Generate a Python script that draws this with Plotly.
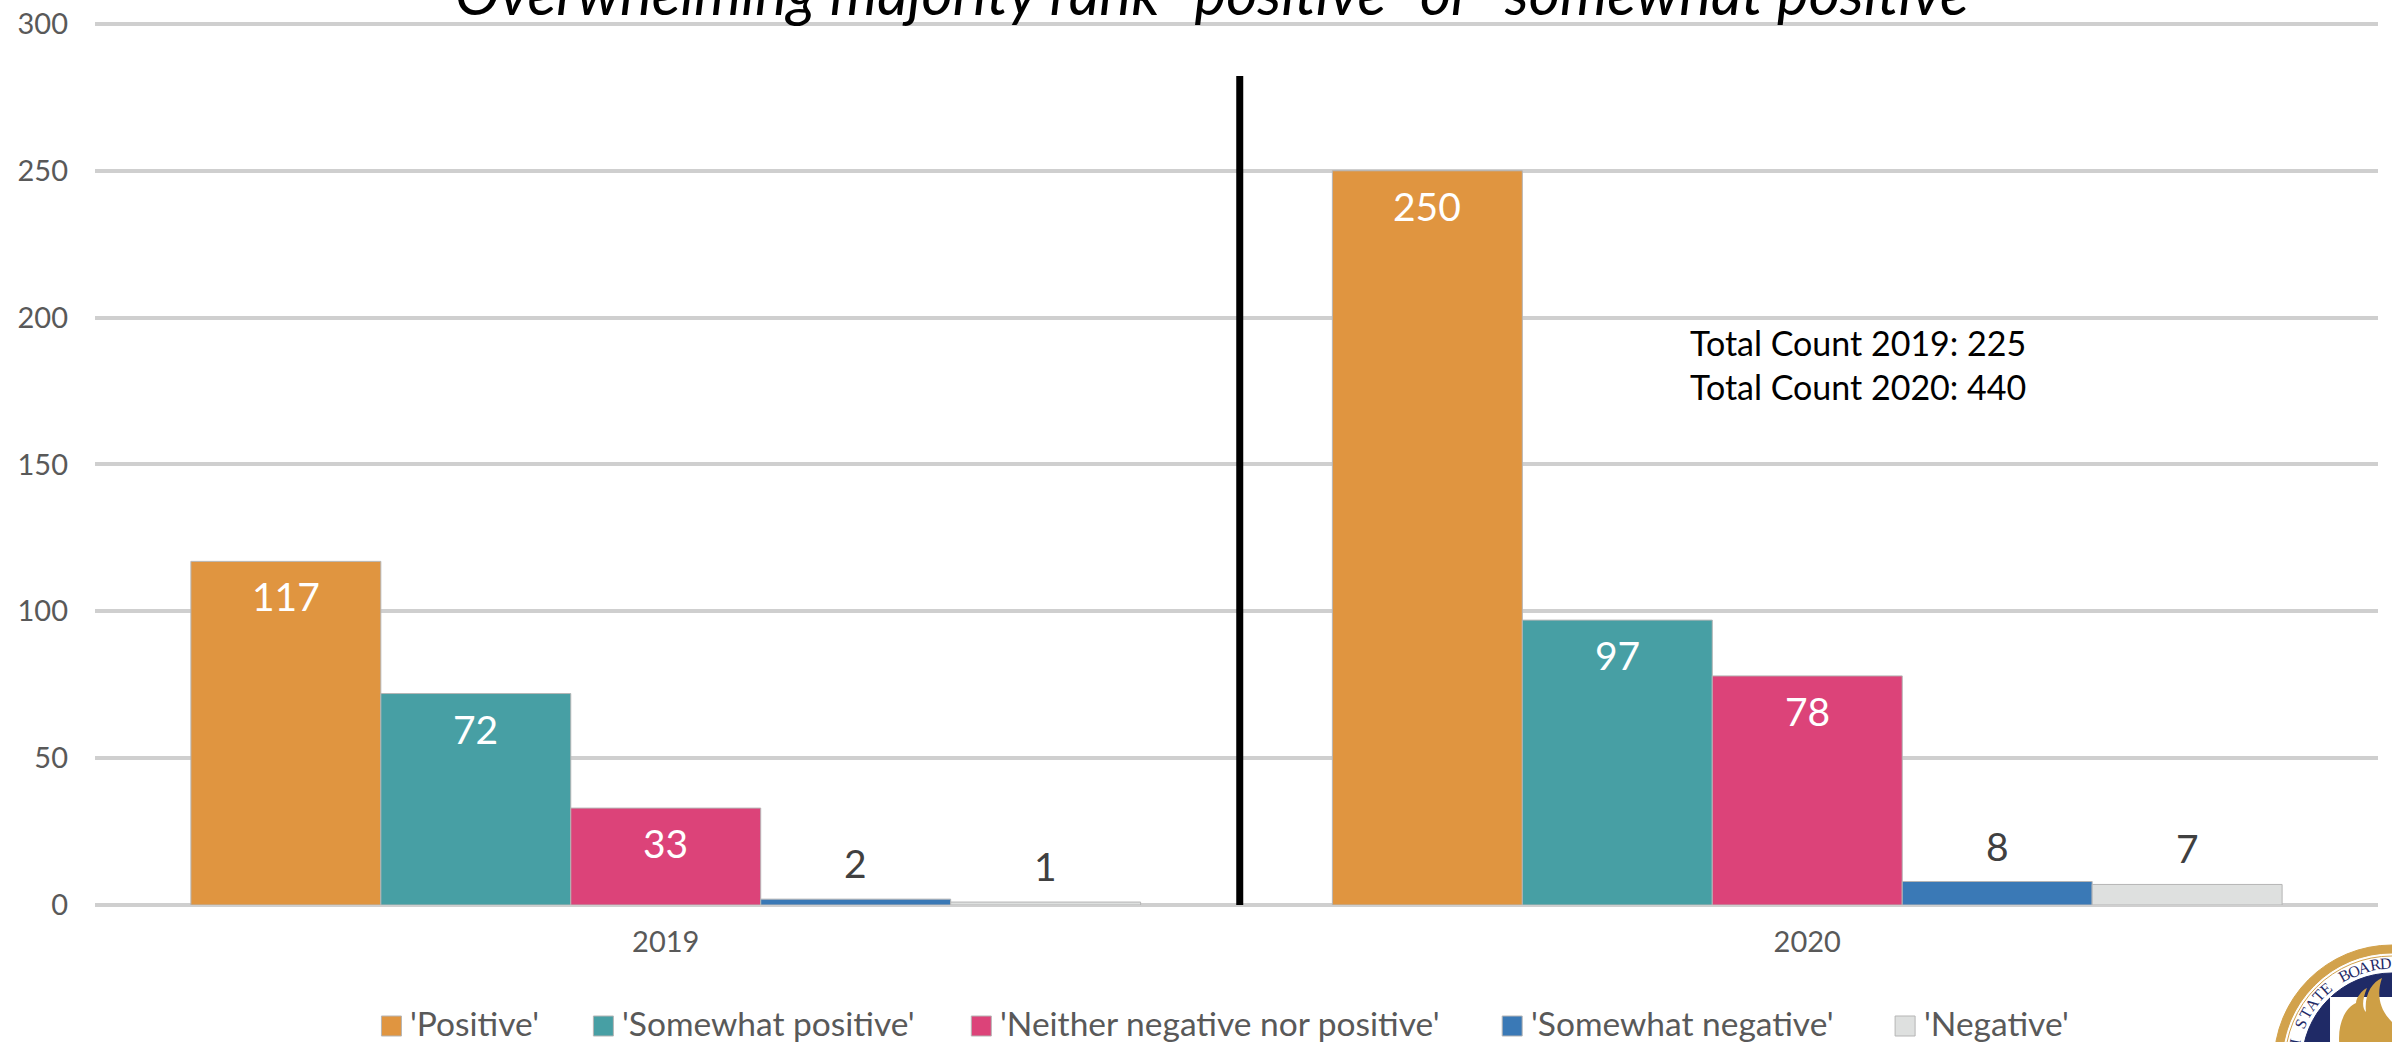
import math
import plotly.graph_objects as go

years = ["2019", "2020"]
series_names = ["'Positive'", "'Somewhat positive'", "'Neither negative nor positive'", "'Somewhat negative'", "'Negative'"]
positive = [117, 250]
somewhat_positive = [72, 97]
neither = [33, 78]
somewhat_negative = [2, 8]
negative = [1, 7]
series_values = [positive, somewhat_positive, neither, somewhat_negative, negative]
colors = ["#E09540", "#479FA4", "#DC4379", "#3A79B6", "#DEE0DF"]
title_text = "Overwhelming majority rank \"positive\" or \"somewhat positive\""
notes = ["Total Count 2019: 225", "Total Count 2020: 440"]

W, H = 2392, 1042
YTOP = 301
L, R, B = 94.5, 2378, 905
T = B - (B - 24) * YTOP / 300
FONT = "Lato"
px = lambda x: (x - L) / (R - L)
py = lambda y: (B - y) / (B - T)

fig = go.Figure()
for name, vals, col in zip(series_names, series_values, colors):
    fig.add_trace(go.Bar(x=years, y=vals, name=name, marker=dict(color=col, line=dict(color="#b5b5b5", width=1)),
                         showlegend=False))

ann = []
BARW = (R - L) / 2 * (1 - 0.168) / 5
for i, vals in enumerate(series_values):
    for j, v in enumerate(vals):
        inside = v > 20
        ann.append(dict(x=j, y=v, xref="x", yref="y", text=str(v), showarrow=False,
                        xshift=(i - 2) * BARW, yshift=-35 if inside else 36, yanchor="middle",
                        font=dict(family=FONT, size=39, color="#ffffff" if inside else "#404040")))

ann.append(dict(x=px(1222), y=py(15), xref="paper", yref="paper", text=f"<i>{title_text}</i>", showarrow=False,
                xanchor="center", yanchor="bottom", yshift=-15, font=dict(family=FONT, size=60, color="#000000")))
for note, yc in zip(notes, [343, 387]):
    ann.append(dict(x=px(1688), y=py(yc), xref="paper", yref="paper", text=note, showarrow=False,
                    xanchor="left", yanchor="middle", font=dict(family=FONT, size=34, color="#000000")))

shapes = [dict(type="line", xref="paper", yref="paper", x0=px(1239.5), x1=px(1239.5), y0=py(76), y1=py(905),
               line=dict(color="#000000", width=7))]

# legend
swatch_x = [381, 593, 971, 1502, 1895]
for name, col, sx in zip(series_names, colors, swatch_x):
    shapes.append(dict(type="rect", xref="paper", yref="paper", x0=px(sx), x1=px(sx + 20), y0=py(1036), y1=py(1016),
                       fillcolor=col, line=dict(color="#b5b5b5", width=1)))
    ann.append(dict(x=px(sx + 27), y=py(1023), xref="paper", yref="paper", text=name, showarrow=False,
                    xanchor="left", yanchor="middle", font=dict(family=FONT, size=33.5, color="#595959")))

# seal in the corner
CX, CY = 2392, 1063
def circle(r, fill, line=None):
    return dict(type="circle", xref="paper", yref="paper", x0=px(CX - r), x1=px(CX + r), y0=py(CY - r), y1=py(CY + r),
                fillcolor=fill, line=dict(color=line or fill, width=1), layer="above")
shapes += [circle(118, "#D2A24C"), circle(109, "#ffffff"), circle(107, "#ffffff", "#D2A24C"), circle(90, "#1F2A66")]
shapes.append(dict(type="rect", xref="paper", yref="paper", x0=px(2330), x1=px(2400), y0=py(1050), y1=py(997),
                   fillcolor="#ffffff", line=dict(width=0)))
def P(x, y):
    return f"{px(x):.5f},{py(y):.5f}"
flame = ("M" + P(2340, 1050) + " C" + P(2336, 1025) + " " + P(2345, 1008) + " " + P(2356, 1003) +
         " C" + P(2356, 998) + " " + P(2362, 990) + " " + P(2367, 988) +
         " C" + P(2362, 1000) + " " + P(2362, 1008) + " " + P(2366, 1012) +
         " C" + P(2364, 995) + " " + P(2372, 982) + " " + P(2382, 978) +
         " C" + P(2376, 995) + " " + P(2380, 1010) + " " + P(2392, 1022) + " L" + P(2392, 1050) + " Z")
shapes.append(dict(type="path", xref="paper", yref="paper", path=flame, fillcolor="#CE9F45", line=dict(width=0)))
seal = "AH STATE BOARD"
for k, ch in enumerate(seal):
    a = -3.5 - 6.3 * (len(seal) - 1 - k)
    x = CX + 99.5 * math.sin(math.radians(a))
    y = CY - 99.5 * math.cos(math.radians(a))
    if ch != " ":
        ann.append(dict(x=px(x), y=py(y), xref="paper", yref="paper", text=ch, showarrow=False, textangle=a,
                        xanchor="center", yanchor="middle",
                        font=dict(family="Liberation Serif", size=16, color="#1F2A66")))

fig.update_layout(
    width=W, height=H, margin=dict(l=L, r=W - R, t=T, b=H - B, pad=0),
    paper_bgcolor="#ffffff", plot_bgcolor="#ffffff",
    barmode="group", bargap=0.168, bargroupgap=0,
    annotations=ann, shapes=shapes,
    xaxis=dict(type="category", range=[-0.5, 1.5], tickfont=dict(family=FONT, size=29, color="#595959"), showgrid=False,
               showline=False, ticks="", ticklabelstandoff=17, zeroline=False, automargin=False),
    yaxis=dict(range=[0, YTOP], tick0=0, dtick=50, tickfont=dict(family=FONT, size=29, color="#595959"),
               showgrid=True, gridcolor="#cfcfcf", gridwidth=4, zeroline=True, zerolinecolor="#cfcfcf",
               zerolinewidth=4, ticks="", showline=False, ticklabelstandoff=26, automargin=False),
)
fig.write_html("out.html", config={"displayModeBar": False},
               post_script="document.body.style.margin='0';document.documentElement.style.overflow='hidden';")
